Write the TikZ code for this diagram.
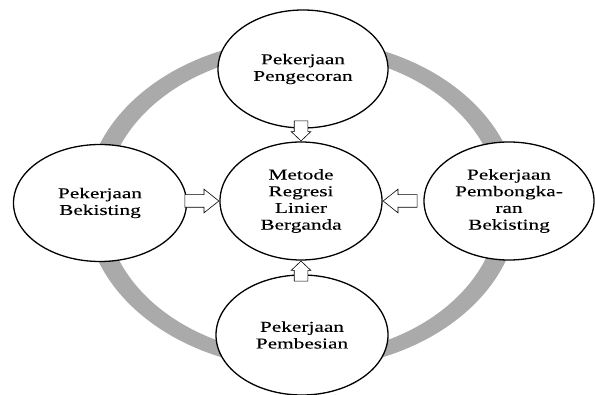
\documentclass[tikz,border=0pt]{standalone}
\usepackage{fontspec}
\setmainfont{Liberation Serif}[FakeStretch=1.42,FakeBold=0.15]
\usetikzlibrary{shapes.geometric,shapes.arrows}
\definecolor{ringgray}{RGB}{170,170,170}

\begin{document}
\begin{tikzpicture}[x=1pt,y=1pt]
\tikzstyle{job}=[draw, ellipse, fill=white, line width=1.3pt, inner sep=0pt, align=center, font=\fontsize{15}{16.7}\selectfont]
\tikzstyle{sidearr}=[draw, single arrow, fill=white, line width=0.6pt, inner sep=6pt, minimum height=34, single arrow head extend=5.5pt, single arrow tip angle=77]
\tikzstyle{updownarr}=[draw, single arrow, fill=white, line width=0.6pt, inner sep=6.5pt, minimum height=17, single arrow head extend=3pt, single arrow tip angle=93]

\useasboundingbox (0,0) rectangle (595,394);

% grey ring behind the circles
\fill[ringgray, even odd rule] (302,190) ellipse [x radius=217, y radius=165]
                               (302,190) ellipse [x radius=197, y radius=151];

\node[job, minimum width=162, minimum height=118] (M) at (301,193) {Metode\\Regresi\\Linier\\Berganda};
\node[job, minimum width=170, minimum height=118] (P) at (303,325) {Pekerjaan\\Pengecoran};
\node[job, minimum width=173, minimum height=117] (B) at (100,191) {Pekerjaan\\Bekisting};
\node[job, minimum width=170, minimum height=118] (K) at (509,193) {Pekerjaan\\Pembongka-\\ran\\Bekisting};
\node[job, minimum width=172, minimum height=120] (S) at (302,59) {Pekerjaan\\Pembesian};

\node[updownarr, rotate=-90, anchor=tip] (aP) at (M.north) {};
\node[updownarr, rotate=90, anchor=tip] (aS) at (M.south) {};
\node[sidearr, anchor=tip] (aB) at (M.west) {};
\node[sidearr, rotate=180, anchor=tip] (aK) at (M.east) {};
\end{tikzpicture}
\end{document}
